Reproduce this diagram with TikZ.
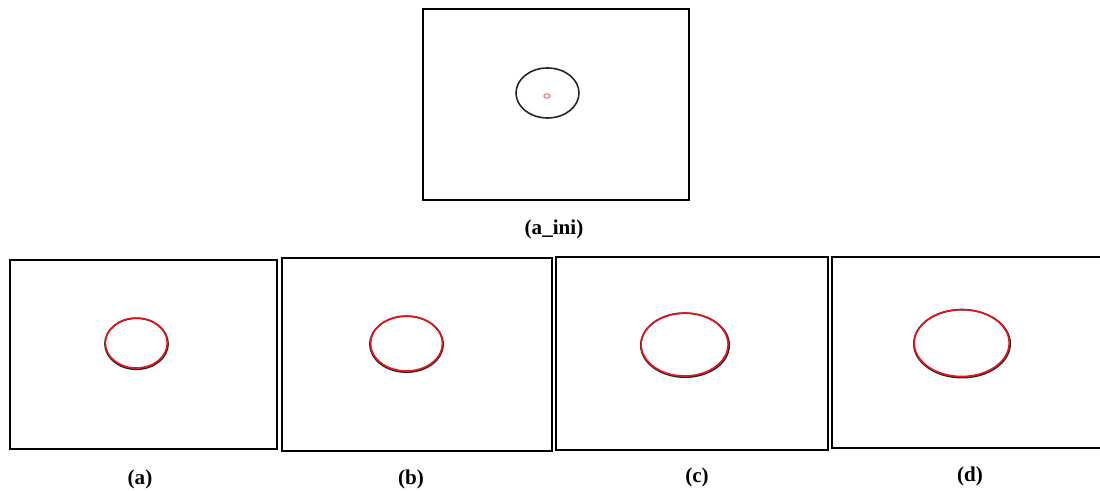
\documentclass[tikz,border=0pt]{standalone}
\usepackage{fontspec}
\setmainfont{Liberation Serif}
\usepackage{tikz}
\definecolor{fitred}{RGB}{236,20,28}
\definecolor{inired}{RGB}{240,90,90}

\begin{document}
\begin{tikzpicture}[
    x=0.025cm, y=-0.025cm,
    frame/.style={draw=black, line width=2.1*0.709pt},
    contour/.style={draw=black!85, line width=1.6*0.709pt},
    fitted/.style={draw=fitred, line width=1.6*0.709pt},
    seed/.style={draw=inired, line width=0.9*0.709pt},
    lbl/.style={font=\fontsize{15}{18}\selectfont\bfseries, inner sep=0pt}
]
    \useasboundingbox (0,0) rectangle (1100,491);

    % initial contour
    \draw[frame] (423,9) rectangle (689,200);
    \draw[contour] (547.5,93) ellipse [x radius=31.5, y radius=25];
    \draw[seed] (547,96) ellipse [x radius=3.2, y radius=2.2];
    \node[lbl] (lini) at (554,229) {(a\_ini)};

    % evolved contours
    \draw[frame] (10,260) rectangle (277,449);
    \draw[contour] (136.5,343.8) ellipse [x radius=31.6, y radius=25.5];
    \draw[fitted] (136.3,343) ellipse [x radius=31, y radius=25];
    \node[lbl] (la) at (140,479) {(a)};

    \draw[frame] (282,258) rectangle (552,451);
    \draw[contour] (406.5,344.2) ellipse [x radius=36.6, y radius=28];
    \draw[fitted] (406.5,343.5) ellipse [x radius=36, y radius=27.5];
    \node[lbl] (lb) at (411,479) {(b)};

    \draw[frame] (556,257) rectangle (828,450);
    \draw[contour] (685,345.2) ellipse [x radius=44.2, y radius=32];
    \draw[fitted] (684.6,344.5) ellipse [x radius=43.5, y radius=31.5];
    \node[lbl] (lc) at (697,477) {(c)};

    \draw[frame] (832,257) rectangle (1104,448);
    \draw[contour] (962,343.7) ellipse [x radius=48.2, y radius=34];
    \draw[fitted] (961.7,343) ellipse [x radius=47.5, y radius=33.5];
    \node[lbl] (ld) at (970,476) {(d)};
\end{tikzpicture}
\end{document}
